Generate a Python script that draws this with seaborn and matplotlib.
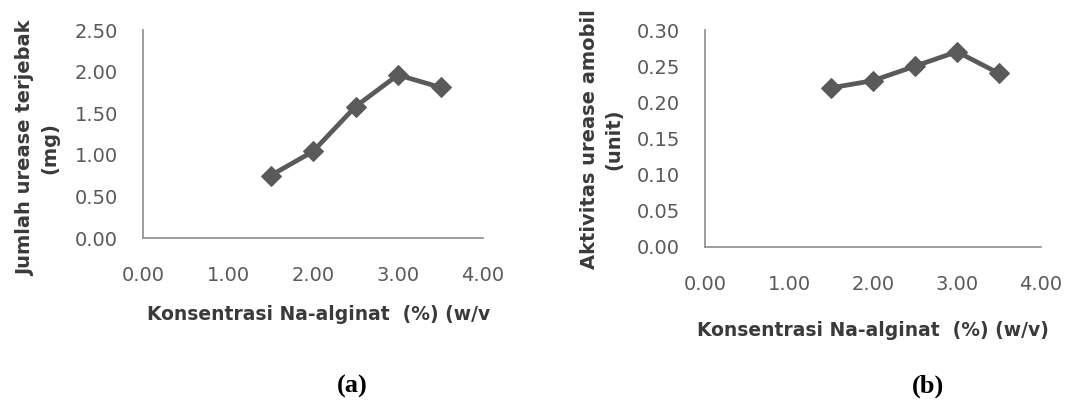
import seaborn as sns
import matplotlib.pyplot as plt
import pandas as pd

# Konsentrasi Na-alginat (%) (w/v)
konsentrasi = [1.5, 2.0, 2.5, 3.0, 3.5]
# (a) Jumlah urease terjebak (mg)
urease_terjebak = [0.75, 1.04, 1.58, 1.96, 1.81]
# (b) Aktivitas urease amobil (unit)
aktivitas = [0.22, 0.23, 0.25, 0.27, 0.24]

x_ticks = [0.0, 1.0, 2.0, 3.0, 4.0]
y_ticks_a = [0.0, 0.5, 1.0, 1.5, 2.0, 2.5]
y_ticks_b = [0.0, 0.05, 0.10, 0.15, 0.20, 0.25, 0.30]

LINE = "#5a5a5a"
AXIS = "#8c8c8c"
TICK = "#595959"
LABEL = "#3a3a3a"


def style_axes(ax, yticks):
    ax.set_xlim(0, 4)
    ax.set_ylim(yticks[0], yticks[-1])
    ax.set_xticks(x_ticks)
    ax.set_xticklabels([f"{v:.2f}" for v in x_ticks])
    ax.set_yticks(yticks)
    ax.set_yticklabels([f"{v:.2f}" for v in yticks])
    ax.tick_params(axis="x", length=0, pad=20, labelsize=14, colors=TICK)
    ax.tick_params(axis="y", length=0, pad=18, labelsize=14, colors=TICK)
    for s in ["top", "right"]:
        ax.spines[s].set_visible(False)
    for s in ["left", "bottom"]:
        ax.spines[s].set_color(AXIS)
        ax.spines[s].set_linewidth(1.2)
    ax.set_xlabel("")
    ax.set_ylabel("")
    ax.grid(False)


def main():
    sns.set_style("white")
    plt.rcParams["font.family"] = ["DejaVu Sans"]

    fig = plt.figure(figsize=(10.88, 4.0), dpi=100)

    df_a = pd.DataFrame({"x": konsentrasi, "y": urease_terjebak})
    df_b = pd.DataFrame({"x": konsentrasi, "y": aktivitas})

    ax_a = fig.add_axes([143 / 1088, 162 / 400, 340 / 1088, 208 / 400])
    sns.lineplot(data=df_a, x="x", y="y", ax=ax_a, color=LINE, linewidth=3.4,
                 marker="D", markersize=10.5, markeredgecolor=LINE, clip_on=False)
    style_axes(ax_a, y_ticks_a)

    ax_b = fig.add_axes([705 / 1088, 153 / 400, 336 / 1088, 217 / 400])
    sns.lineplot(data=df_b, x="x", y="y", ax=ax_b, color=LINE, linewidth=3.4,
                 marker="D", markersize=10.5, markeredgecolor=LINE, clip_on=False)
    style_axes(ax_b, y_ticks_b)

    # axis titles
    fig.text(38 / 1088, 1 - 148 / 400, "Jumlah urease terjebak\n(mg)", rotation=90,
             ha="center", va="center", fontsize=14, fontweight="bold",
             color=LABEL, linespacing=1.35)
    fig.text(602 / 1088, 1 - 139 / 400, "Aktivitas urease amobil\n(unit)", rotation=90,
             ha="center", va="center", fontsize=14, fontweight="bold",
             color=LABEL, linespacing=1.35)
    fig.text(319 / 1088, 1 - 315 / 400, "Konsentrasi Na-alginat  (%) (w/v",
             ha="center", va="center", fontsize=13.5, fontweight="bold", color=LABEL)
    fig.text(873 / 1088, 1 - 330 / 400, "Konsentrasi Na-alginat  (%) (w/v)",
             ha="center", va="center", fontsize=13.5, fontweight="bold", color=LABEL)

    # panel captions
    fig.text(352 / 1088, 1 - 386 / 400, "(a)", ha="center", va="center",
             fontsize=19, fontweight="bold", family="Liberation Serif", color="black")
    fig.text(928 / 1088, 1 - 386 / 400, "(b)", ha="center", va="center",
             fontsize=19, fontweight="bold", family="Liberation Serif", color="black")

    fig.savefig("out.png", dpi=100)


if __name__ == "__main__":
    main()
